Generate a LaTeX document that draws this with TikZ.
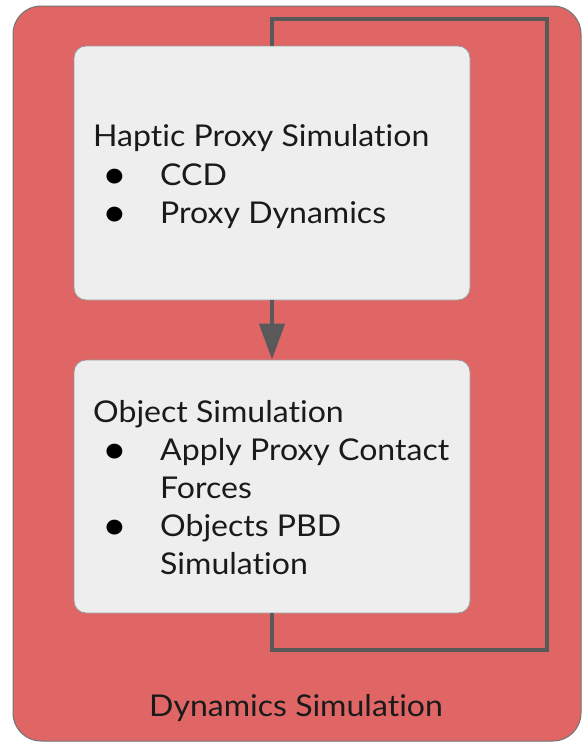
\documentclass[tikz,border=0pt]{standalone}
\usepackage{fontspec}
\setmainfont{Lato}[FakeStretch=1.068, Ligatures=NoCommon]
\usetikzlibrary{arrows.meta}
\definecolor{redfill}{HTML}{E06666}
\definecolor{boxfill}{HTML}{EEEEEE}
\definecolor{loopcol}{HTML}{595959}
\definecolor{txt}{HTML}{1A1A1A}
\tikzset{
  outerbox/.style={draw=black!55, line width=1pt, fill=redfill, rounded corners=28pt},
  innerbox/.style={draw=black!40, line width=0.8pt, fill=boxfill, rounded corners=12pt,
    minimum width=396pt, inner sep=0pt},
  loopline/.style={draw=loopcol, line width=4.5pt},
  lbl/.style={anchor=base west, inner sep=0pt, text=txt, font=\fontsize{30}{38}\selectfont},
  bul/.style={anchor=base, inner sep=0pt, text=black, font=\fontsize{40}{40}\selectfont},
}
\begin{document}
\begin{tikzpicture}[x=1pt,y=-1pt]
\useasboundingbox (0,0) rectangle (582,742);
\fill[white] (0,0) rectangle (582,742);
\draw[outerbox] (13,6) rectangle (581,741);
\node[innerbox, minimum height=254pt] (box1) at (272,173) {};
\node[innerbox, minimum height=253pt] (box2) at (272,486.5) {};
\coordinate (lbr) at (547,650);
\coordinate (ltr) at (547,19);
\draw[loopline] (box2.south) |- (lbr) -- (ltr) -| (box1.north);
\draw[loopline, -{Triangle[length=36pt,width=25pt]}] (box1.south) -- (box2.north);
\node[lbl] (t1) at (93,146.7) {Haptic Proxy Simulation};
\node[bul] (b1) at (115,188) {\textbullet};
\node[lbl] (t2) at (160,185) {CCD};
\node[bul] (b2) at (115,226) {\textbullet};
\node[lbl] (t3) at (160,223) {Proxy Dynamics};
\node[lbl] (t4) at (93,422) {Object Simulation};
\node[bul] (b3) at (115,463) {\textbullet};
\node[lbl] (t5) at (160,460) {Apply Proxy Contact};
\node[lbl] (t6) at (160,498) {Forces};
\node[bul] (b4) at (115,539) {\textbullet};
\node[lbl] (t7) at (160,536) {Objects PBD};
\node[lbl] (t8) at (160,574) {Simulation};
\node[lbl] (t9) at (149,716.7) {Dynamics Simulation};
\end{tikzpicture}
\end{document}
